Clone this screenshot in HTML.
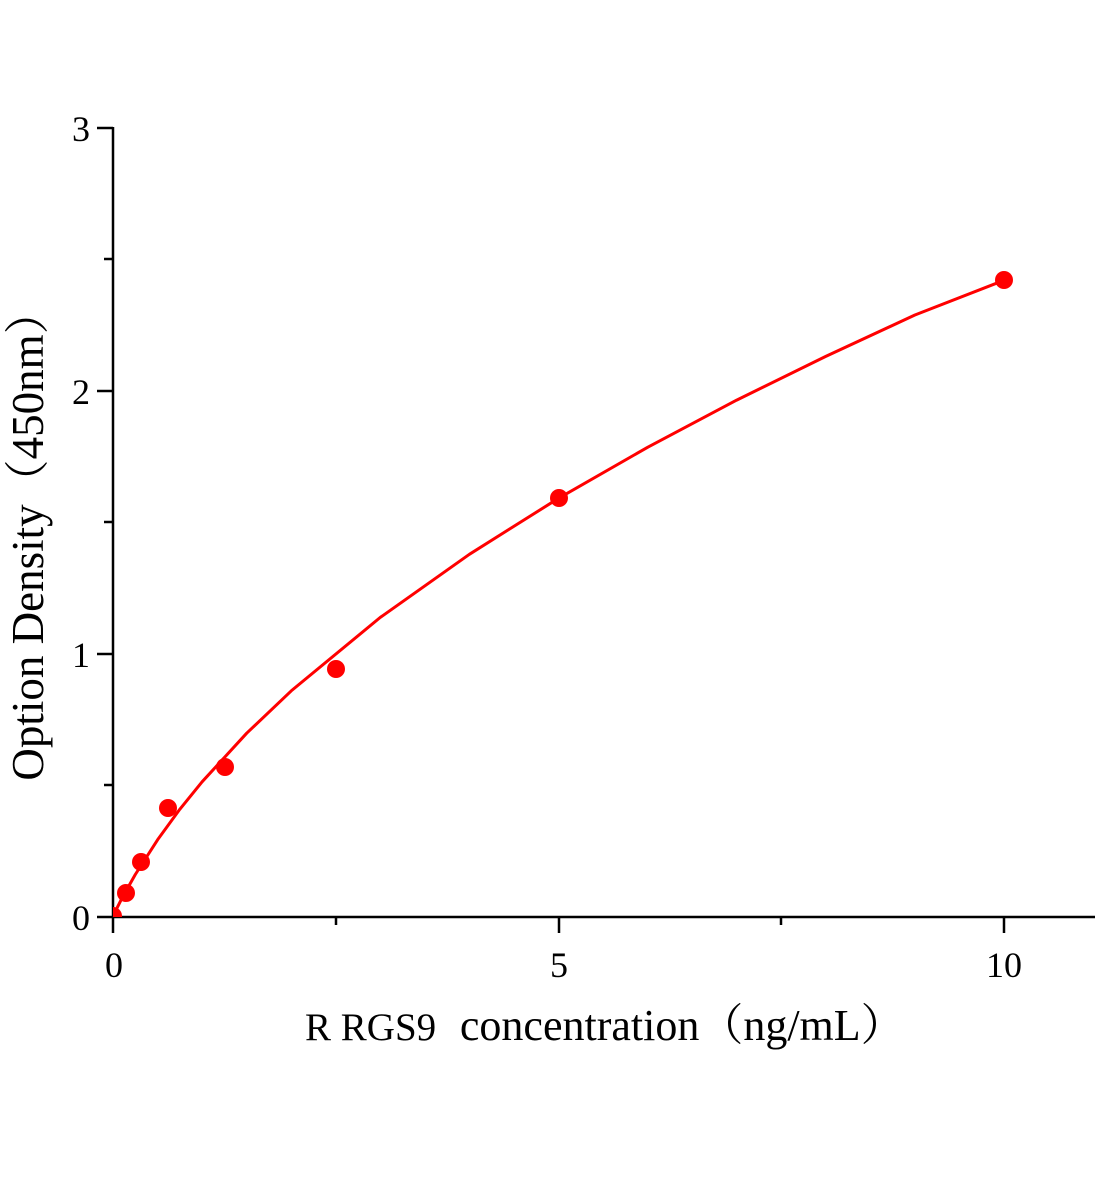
<!DOCTYPE html>
<html><head><meta charset="utf-8"><style>
html,body{margin:0;padding:0;background:#fff;}
svg{display:block;}
text{font-family:"Liberation Serif","Noto Serif CJK SC",serif;fill:#000;}
</style></head><body>
<svg width="1104" height="1200" viewBox="0 0 1104 1200" xmlns="http://www.w3.org/2000/svg">
<defs><clipPath id="c"><rect x="113" y="100" width="990" height="817"/></clipPath></defs>
<g stroke="#000" stroke-width="2.5" fill="none">
<line x1="113" y1="127" x2="113" y2="933"/>
<line x1="97" y1="917" x2="1095" y2="917"/>
<line x1="97" y1="128" x2="113" y2="128"/>
<line x1="97" y1="391" x2="113" y2="391"/>
<line x1="97" y1="654" x2="113" y2="654"/>
<line x1="104" y1="259" x2="113" y2="259"/>
<line x1="104" y1="522" x2="113" y2="522"/>
<line x1="104" y1="785" x2="113" y2="785"/>
<line x1="559" y1="917" x2="559" y2="933"/>
<line x1="1004" y1="917" x2="1004" y2="933"/>
<line x1="336" y1="917" x2="336" y2="925"/>
<line x1="781" y1="917" x2="781" y2="925"/>
</g>
<g font-size="36" text-anchor="end">
<text x="90" y="141">3</text><text x="90" y="404">2</text><text x="90" y="667">1</text><text x="90" y="930">0</text>
</g>
<g font-size="36" text-anchor="middle">
<text x="114" y="977">0</text><text x="559" y="977">5</text><text x="1004" y="977">10</text>
</g>
<text x="305" y="1040" font-size="39">R RGS9 <tspan font-size="44" dx="14">concentration（ng/mL）</tspan></text>
<text transform="translate(43,535) rotate(-90)" font-size="45" text-anchor="middle">Option Density（450nm）</text>
<g clip-path="url(#c)">
<polyline points="113,916 121.9,898.3 135.3,874.5 157.6,839.8 179.8,809.3 202.1,781.8 246.7,733.2 291.2,690.9 380.3,617.4 469.4,554.3 558.5,498.3 647.6,447.3 736.7,400.1 825.8,356.4 914.9,315.0 1004,280.3" stroke="#f00" stroke-width="3" fill="none" stroke-linejoin="round"/>
<g fill="#f00">
<circle cx="113" cy="916" r="9"/><circle cx="126" cy="893" r="9"/><circle cx="141" cy="862" r="9"/>
<circle cx="168" cy="808" r="9"/><circle cx="225" cy="767" r="9"/><circle cx="336" cy="669" r="9"/>
<circle cx="559" cy="498" r="9"/><circle cx="1004" cy="280" r="9"/>
</g>
</g>
</svg>
</body></html>
